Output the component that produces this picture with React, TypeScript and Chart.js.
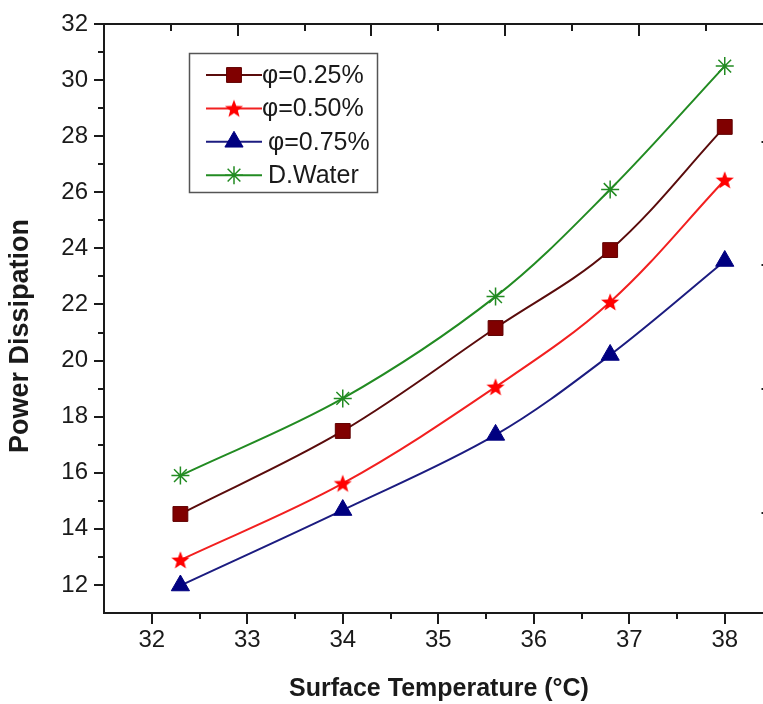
import React, { useEffect, useRef } from 'react';
import { Chart, registerables } from 'chart.js';
import { drawPoint } from 'chart.js/helpers';

Chart.register(...registerables);

// ---- data ----
const temperatures = [32.3, 34, 35.6, 36.8, 38];
const phi025 = [14.53, 17.49, 21.16, 23.94, 28.33];
const phi050 = [12.89, 15.62, 19.06, 22.09, 26.44];
const phi075 = [11.98, 14.67, 17.35, 20.2, 23.55];
const dWater = [15.9, 18.65, 22.28, 26.1, 30.5];
const seriesLabels = ['φ=0.25%', 'φ=0.50%', 'φ=0.75%', 'D.Water'];
const xTitle = 'Surface Temperature (°C)';
const yTitle = 'Power Dissipation';

const xMajorTicks = [32, 33, 34, 35, 36, 37, 38];
const xMinorTicks = [32.5, 33.5, 34.5, 35.5, 36.5, 37.5];
const yMajorTicks = [12, 14, 16, 18, 20, 22, 24, 26, 28, 30, 32];
const yMinorTicks = [13, 15, 17, 19, 21, 23, 25, 27, 29, 31];
const topMajorTicks = [1, 2, 3, 4];
const topMinorTicks = [0.5, 1.5, 2.5, 3.5, 4.5];
const rightMajorTicks = [1, 2, 3, 4];

const FONT = "'Liberation Sans', Arial, sans-serif";
const INK = '#1a1a1a';

function makeStarCanvas(fill: string, outer: number, inner: number) {
  const size = 22;
  const c = document.createElement('canvas');
  c.width = size;
  c.height = size;
  const g = c.getContext('2d')!;
  g.beginPath();
  for (let k = 0; k < 10; k++) {
    const r = k % 2 === 0 ? outer : inner;
    const a = -Math.PI / 2 + (k * Math.PI) / 5;
    const px = size / 2 + r * Math.cos(a);
    const py = size / 2 + r * Math.sin(a) + 0.8;
    if (k === 0) g.moveTo(px, py);
    else g.lineTo(px, py);
  }
  g.closePath();
  g.fillStyle = fill;
  g.fill();
  return c;
}

const decorPlugin = {
  id: 'decor',
  afterDraw(chart: any) {
    const { ctx, chartArea: ca, scales } = chart;
    const sx = scales.x, sy = scales.y, st = scales.xTop, sr = scales.yRight;
    ctx.save();
    ctx.strokeStyle = INK;
    ctx.lineWidth = 2;
    ctx.lineCap = 'butt';
    const line = (x1: number, y1: number, x2: number, y2: number) => {
      ctx.beginPath();
      ctx.moveTo(x1, y1);
      ctx.lineTo(x2, y2);
      ctx.stroke();
    };
    // frame
    line(ca.left, ca.top - 1, ca.left, ca.bottom + 1);
    line(ca.left - 1, ca.bottom, ca.right + 1, ca.bottom);
    line(ca.left - 1, ca.top, ca.right + 1, ca.top);
    line(ca.right, ca.top - 1, ca.right, ca.bottom + 1);
    // bottom ticks (outward)
    xMajorTicks.forEach(v => { const p = Math.round(sx.getPixelForValue(v)); line(p, ca.bottom, p, ca.bottom + 11); });
    xMinorTicks.forEach(v => { const p = Math.round(sx.getPixelForValue(v)); line(p, ca.bottom, p, ca.bottom + 6); });
    // left ticks (outward)
    yMajorTicks.forEach(v => { const p = Math.round(sy.getPixelForValue(v)); line(ca.left, p, ca.left - 10, p); });
    yMinorTicks.forEach(v => { const p = Math.round(sy.getPixelForValue(v)); line(ca.left, p, ca.left - 6, p); });
    // top ticks (inward)
    topMajorTicks.forEach(v => { const p = Math.round(st.getPixelForValue(v)); line(p, ca.top, p, ca.top + 12); });
    topMinorTicks.forEach(v => { const p = Math.round(st.getPixelForValue(v)); line(p, ca.top, p, ca.top + 7); });
    // right ticks (inward)
    rightMajorTicks.forEach(v => { const p = Math.round(sr.getPixelForValue(v)); line(ca.right, p, ca.right - 11, p); });

    // axis titles
    ctx.fillStyle = INK;
    ctx.textAlign = 'center';
    ctx.textBaseline = 'middle';
    ctx.font = `bold 25px ${FONT}`;
    ctx.fillText(xTitle, 439, 689);
    ctx.save();
    ctx.translate(21, 336);
    ctx.rotate(-Math.PI / 2);
    ctx.font = `bold 27px ${FONT}`;
    ctx.fillText(yTitle, 0, 0);
    ctx.restore();

    // legend box
    ctx.lineWidth = 1.5;
    ctx.strokeStyle = '#555';
    ctx.strokeRect(189.5, 53.5, 188, 139);
    ctx.font = `25px ${FONT}`;
    ctx.textBaseline = 'middle';
    ctx.textAlign = 'left';
    chart.data.datasets.forEach((ds: any, i: number) => {
      const y = 75 + i * 33.4;
      ctx.strokeStyle = ds.borderColor;
      ctx.lineWidth = 2;
      line(206, y, 262, y);
      ctx.fillStyle = ds.pointBackgroundColor;
      ctx.strokeStyle = ds.pointBorderColor;
      ctx.lineWidth = ds.pointBorderWidth;
      drawPoint(ctx, { pointStyle: ds.pointStyle, rotation: 0, radius: ds.pointRadius, borderWidth: ds.pointBorderWidth }, 234, y);
      ctx.fillStyle = INK;
      ctx.fillText(ds.label, i >= 2 ? 268 : 262, y + 1);
    });
    ctx.restore();
  },
};

export default function App() {
  const ref = useRef<HTMLCanvasElement>(null);
  useEffect(() => {
    if (!ref.current) return;
    const redStar = makeStarCanvas('#ff0000', 9.5, 4);
    const pts = (ys: number[]) => temperatures.map((t, i) => ({ x: t, y: ys[i] }));
    const chart = new Chart(ref.current, {
      type: 'line',
      data: {
        datasets: [
          {
            label: seriesLabels[0], data: pts(phi025), xAxisID: 'x', yAxisID: 'y',
            borderColor: '#5a0c0c', borderWidth: 2, tension: 0.35,
            pointStyle: 'rect', pointRadius: 10.5, pointBackgroundColor: '#800000', pointBorderColor: '#600000', pointBorderWidth: 1,
          },
          {
            label: seriesLabels[1], data: pts(phi050), xAxisID: 'x', yAxisID: 'y',
            borderColor: '#f22020', borderWidth: 2, tension: 0.35,
            pointStyle: redStar as any, pointRadius: 9, pointBackgroundColor: '#ff0000', pointBorderColor: '#ff0000', pointBorderWidth: 0,
          },
          {
            label: seriesLabels[2], data: pts(phi075), xAxisID: 'x', yAxisID: 'y',
            borderColor: '#1c1c80', borderWidth: 2, tension: 0.35,
            pointStyle: 'triangle', pointRadius: 10.5, pointBackgroundColor: '#000080', pointBorderColor: '#000080', pointBorderWidth: 1,
          },
          {
            label: seriesLabels[3], data: pts(dWater), xAxisID: 'x', yAxisID: 'y',
            borderColor: '#228b22', borderWidth: 2, tension: 0.35,
            pointStyle: 'star', pointRadius: 9, pointBackgroundColor: '#228b22', pointBorderColor: '#228b22', pointBorderWidth: 1.5,
          },
        ],
      },
      options: {
        responsive: false,
        animation: false,
        events: [],
        layout: { padding: { top: 24, right: 3, left: 0, bottom: 0 } },
        plugins: { legend: { display: false }, tooltip: { enabled: false } },
        scales: {
          x: {
            type: 'linear', position: 'bottom', min: 31.5, max: 38.5,
            afterBuildTicks: (s: any) => { s.ticks = xMajorTicks.map(v => ({ value: v })); },
            afterFit: (s: any) => { s.height = 91; s.paddingLeft = 0; s.paddingRight = 0; },
            grid: { display: false, drawTicks: false },
            border: { display: false },
            ticks: { padding: 13, autoSkip: false, maxRotation: 0, color: INK, font: { size: 24, family: FONT } },
          },
          y: {
            type: 'linear', position: 'left', min: 11, max: 32,
            afterBuildTicks: (s: any) => { s.ticks = yMajorTicks.map(v => ({ value: v })); },
            afterFit: (s: any) => { s.width = 104; s.paddingTop = 0; s.paddingBottom = 0; },
            grid: { display: false, drawTicks: false },
            border: { display: false },
            ticks: { padding: 16, autoSkip: false, color: INK, font: { size: 24, family: FONT } },
          },
          xTop: {
            type: 'linear', position: 'top', min: 0, max: 5,
            afterFit: (s: any) => { s.height = 0; s.paddingLeft = 0; s.paddingRight = 0; },
            grid: { display: false, drawTicks: false },
            border: { display: false },
            ticks: { display: false },
          },
          yRight: {
            type: 'linear', position: 'right', min: 0.19, max: 4.95,
            afterFit: (s: any) => { s.width = 0; s.paddingTop = 0; s.paddingBottom = 0; },
            grid: { display: false, drawTicks: false },
            border: { display: false },
            ticks: { display: false },
          },
        },
      } as any,
      plugins: [decorPlugin],
    });
    return () => chart.destroy();
  }, []);
  return (
    <div style={{ position: 'fixed', left: 0, top: 0, width: 763, height: 704, overflow: 'hidden', background: '#fff' }}>
      <canvas ref={ref} width={784} height={704} style={{ display: 'block' }} />
    </div>
  );
}
